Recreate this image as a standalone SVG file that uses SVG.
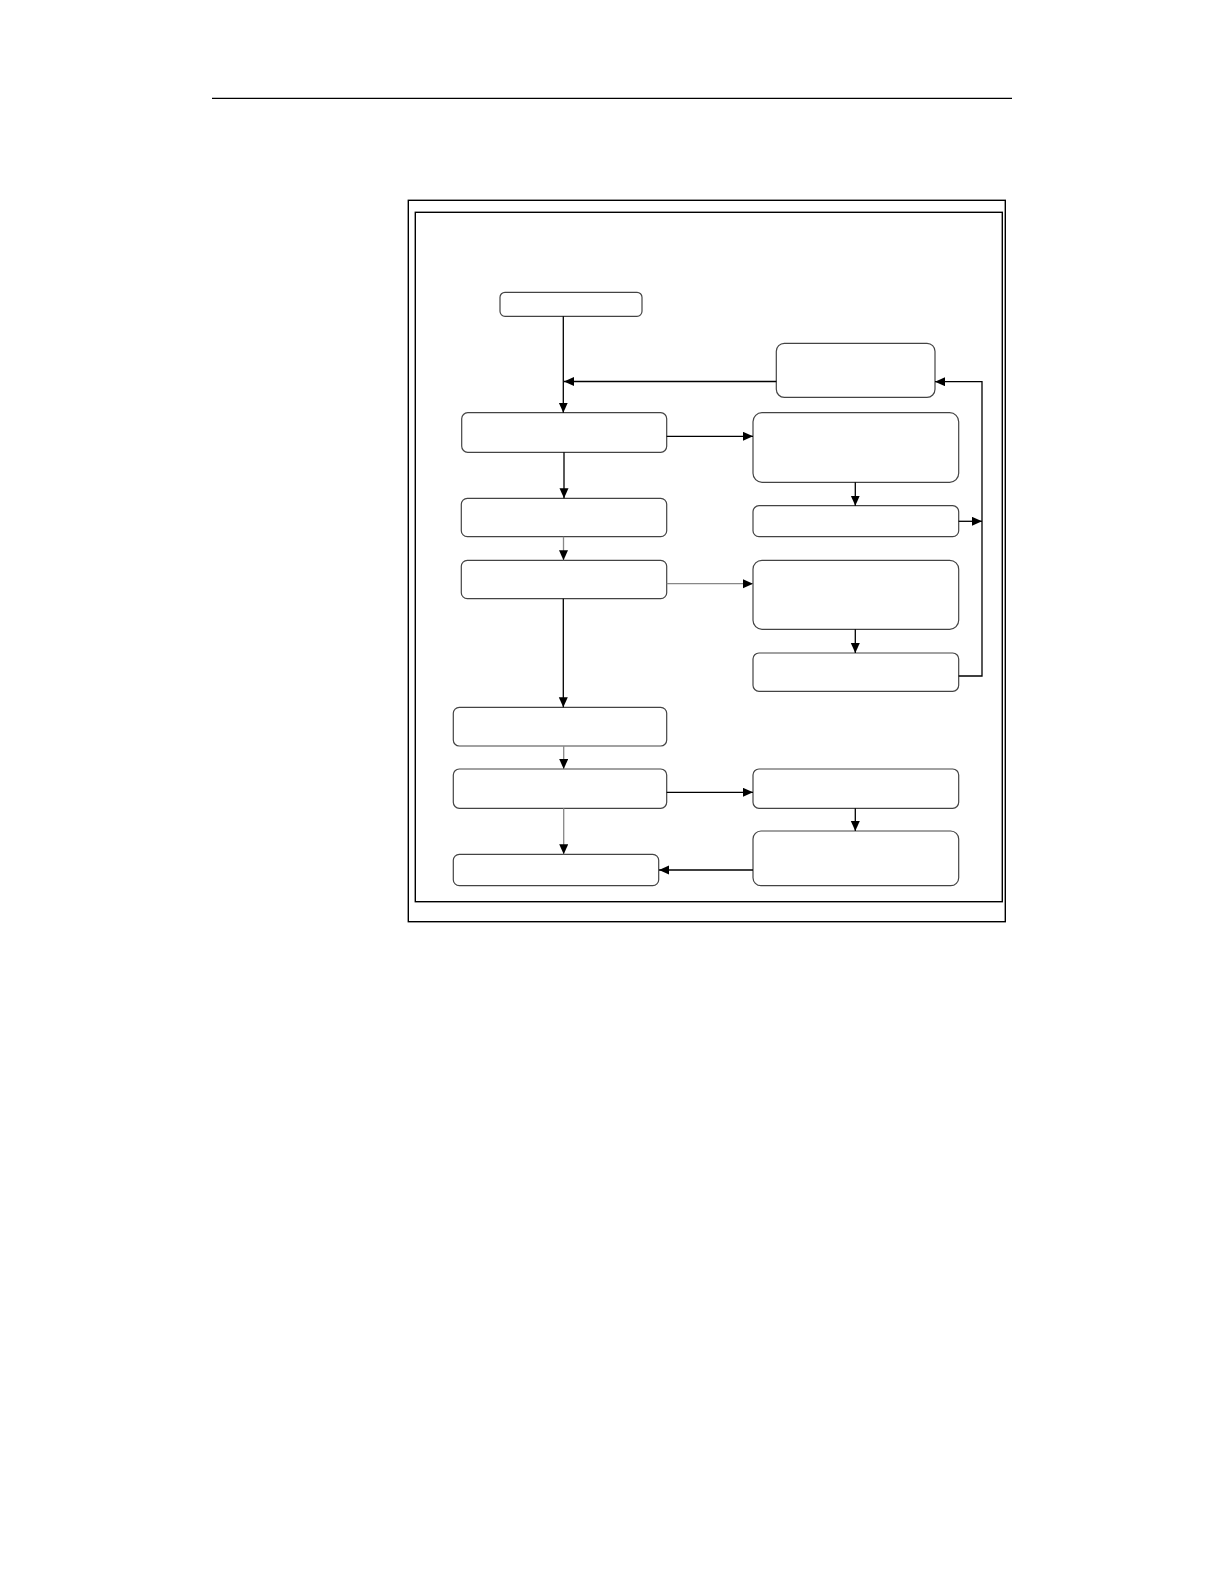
<svg xmlns="http://www.w3.org/2000/svg" width="1224" height="1584" viewBox="0 0 1224 1584">
<style>
.frame{fill:none;stroke:#000;stroke-width:1.4}
.node{fill:#fff;stroke:#444;stroke-width:1.2}
.c{fill:none;stroke:#000;stroke-width:1.3}
.g{fill:none;stroke:#888;stroke-width:1.3}
</style>
<defs>
<marker id="ah" markerUnits="userSpaceOnUse" markerWidth="11" markerHeight="10" refX="10" refY="4.5" orient="auto">
<path d="M0,0 L10,4.5 L0,9 z" fill="#000"/>
</marker>
</defs>
<rect width="1224" height="1584" fill="#fff"/>
<line x1="212" y1="98.3" x2="1012" y2="98.3" stroke="#000" stroke-width="1.3"/>
<rect class="frame" x="408.3" y="200.3" width="597" height="721.4"/>
<rect class="frame" x="415.3" y="212.3" width="587" height="689.4"/>
<g id="n-start"><rect class="node" x="500" y="292.3" width="142" height="24" rx="5"/></g>
<g id="n-feedback"><rect class="node" x="776.3" y="343.3" width="158.7" height="54" rx="8"/></g>
<g id="n-l1"><rect class="node" x="461.7" y="412.7" width="205" height="39.6" rx="6"/></g>
<g id="n-r1"><rect class="node" x="753" y="412.7" width="205.7" height="69.6" rx="9"/></g>
<g id="n-l2"><rect class="node" x="461.3" y="498.3" width="205.4" height="38.4" rx="6"/></g>
<g id="n-r2"><rect class="node" x="753" y="505.7" width="205.7" height="31" rx="6"/></g>
<g id="n-l3"><rect class="node" x="461.3" y="560.3" width="205.4" height="38.4" rx="6"/></g>
<g id="n-r3"><rect class="node" x="753" y="560.3" width="205.7" height="69" rx="9"/></g>
<g id="n-r4"><rect class="node" x="753" y="653" width="205.7" height="38.3" rx="6"/></g>
<g id="n-l4"><rect class="node" x="453.3" y="707.3" width="213.4" height="38.7" rx="6"/></g>
<g id="n-l5"><rect class="node" x="453.3" y="769" width="213.4" height="39.3" rx="6"/></g>
<g id="n-r5"><rect class="node" x="753" y="769" width="205.7" height="39.3" rx="6"/></g>
<g id="n-r6"><rect class="node" x="753" y="831" width="205.7" height="54.7" rx="8"/></g>
<g id="n-l6"><rect class="node" x="453.3" y="854.3" width="205.4" height="31.4" rx="6"/></g>
<g id="connectors">
<path class="c" d="M563.3,316.3 V412.7" marker-end="url(#ah)"/>
<path class="c" d="M776.3,381.5 H564" marker-end="url(#ah)"/>
<path class="c" d="M666.7,436.3 H753" marker-end="url(#ah)"/>
<path class="c" d="M564,452.3 V498.3" marker-end="url(#ah)"/>
<path class="c" d="M855.3,482.3 V505.7" marker-end="url(#ah)"/>
<path class="c" d="M958.7,521.3 H982" marker-end="url(#ah)"/>
<path class="g" d="M563.5,536.7 V560.3" marker-end="url(#ah)"/>
<path class="g" d="M666.7,583.7 H753" marker-end="url(#ah)"/>
<path class="c" d="M855.3,629.3 V653" marker-end="url(#ah)"/>
<path class="c" d="M958.7,676 H982 V381.7 H935" marker-end="url(#ah)"/>
<path class="c" d="M563.3,598.7 V707.3" marker-end="url(#ah)"/>
<path class="g" d="M563.7,746 V769" marker-end="url(#ah)"/>
<path class="c" d="M666.7,792.3 H753" marker-end="url(#ah)"/>
<path class="c" d="M855.3,808.3 V831" marker-end="url(#ah)"/>
<path class="c" d="M753,870 H659" marker-end="url(#ah)"/>
<path class="g" d="M563.7,808.3 V854.3" marker-end="url(#ah)"/>
</g>
</svg>
